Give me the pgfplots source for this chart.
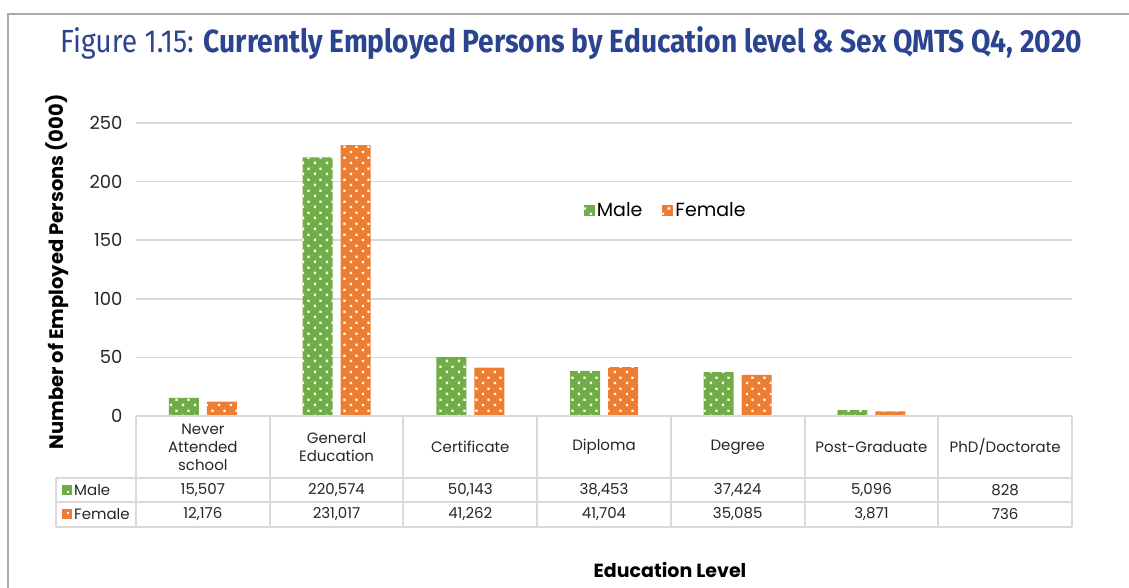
\documentclass[border=0pt]{standalone}
\usepackage{pgfplots}
\usepackage{pgfplotstable}
\pgfplotsset{compat=1.18}
\usepackage{fontspec}
\setmainfont{Poppins}
\newfontfamily\titlefont{Fira Sans}
\usetikzlibrary{patterns.meta}
\definecolor{mgreen}{RGB}{112,173,71}
\definecolor{forange}{RGB}{237,125,49}
\definecolor{tblue}{RGB}{43,68,143}
\definecolor{gridgray}{RGB}{217,217,217}
\definecolor{framegray}{RGB}{170,170,170}
\pgfdeclarepattern{
  name=bardots,
  type=uncolored,
  bottom left={\pgfpoint{0pt}{0pt}},
  top right={\pgfpoint{12pt}{10.6pt}},
  tile size={\pgfpoint{12pt}{10.6pt}},
  code={
    \pgfpathrectangle{\pgfpoint{2pt}{2pt}}{\pgfpoint{2.4pt}{2.4pt}}
    \pgfpathrectangle{\pgfpoint{8pt}{7.3pt}}{\pgfpoint{2.4pt}{2.4pt}}
    \pgfusepath{fill}
  }
}
\pgfplotstableread{
x male female
0 15.507 12.176
1 220.574 231.017
2 50.143 41.262
3 38.453 41.704
4 37.424 35.085
5 5.096 3.871
6 0.828 0.736
}\datatable
\begin{document}
\begin{tikzpicture}[x=1pt,y=1pt]
\useasboundingbox (0,0) rectangle (1129,588);
\draw[framegray, line width=2pt] (8,0) -- (8,574) -- (1129,574);
\node[anchor=base west, inner sep=0, text=tblue] at (60,535)
  {\resizebox{1022pt}{\height}{\fontsize{32}{36}\titlefont Figure 1.15: \textbf{Currently Employed Persons by Education level \& Sex QMTS Q4, 2020}}};
\begin{axis}[
  at={(136pt,172pt)}, anchor=south west,
  scale only axis, width=936pt, height=293pt,
  xmin=-0.5, xmax=6.5, ymin=0, ymax=250,
  ybar=8pt, bar width=30pt,
  axis line style={draw=none},
  xtick=\empty,
  ytick={0,50,100,150,200,250},
  ymajorgrids, grid style={gridgray, line width=1.5pt},
  major tick length=0,
  yticklabel style={font=\fontsize{18}{20}\selectfont, xshift=-10pt, text=black!85},
  /pgf/number format/assume math mode=true,
  clip=false,
  legend style={draw=none, fill=none, at={(0.475,0.703)}, anchor=west,
    font=\fontsize{19}{21}\selectfont, legend columns=2,
    /tikz/every even column/.append style={column sep=18pt}},
  legend image code/.code={\fill[#1] (0pt,-5.5pt) rectangle (11pt,5.5pt);},
]
\addplot[fill=mgreen, draw=none, postaction={pattern=bardots, pattern color=white}] table[x=x,y=male]{\datatable};
\addlegendentry{Male}
\addplot[fill=forange, draw=none, postaction={pattern=bardots, pattern color=white}] table[x=x,y=female]{\datatable};
\addlegendentry{Female}
\end{axis}
% data table
\begin{scope}[gridgray, line width=2pt]
\draw (136,172) -- (1072,172);
\draw (56,110) -- (1072,110);
\draw (56,86) -- (1072,86);
\draw (56,61) -- (1072,61);
\draw (56,110) -- (56,61);
\foreach \k in {0,...,7} {\draw ({136+\k*133.714},172) -- ({136+\k*133.714},61);}
\end{scope}
\begin{scope}[font=\fontsize{15}{18}\selectfont, text=black!85]
\foreach \lab [count=\i from 0] in {{Never\\Attended\\school},{General\\Education},Certificate,Diploma,Degree,Post-Graduate,PhD/Doctorate}
  {\node[align=center, inner sep=0] at ({136+(\i+0.5)*133.714},141) {\lab};}
\foreach \v [count=\i from 0] in {15{,}507,220{,}574,50{,}143,38{,}453,37{,}424,5{,}096,828}
  {\node[inner sep=0] at ({136+(\i+0.5)*133.714},98) {\v};}
\foreach \v [count=\i from 0] in {12{,}176,231{,}017,41{,}262,41{,}704,35{,}085,3{,}871,736}
  {\node[inner sep=0] at ({136+(\i+0.5)*133.714},74) {\v};}
\fill[mgreen] (62,93) rectangle (72,103);
\fill[white] (67,95) rectangle (69.4,97.4);
\fill[forange] (62,69) rectangle (72,79);
\fill[white] (67,74) rectangle (69.4,76.4);
\node[anchor=west, inner sep=0] at (74,98) {Male};
\node[anchor=west, inner sep=0] at (74,74) {Female};
\end{scope}
\node[font=\fontsize{19}{22}\selectfont\bfseries] at (670,18) {Education Level};
\node[font=\fontsize{19.5}{22}\selectfont\bfseries, rotate=90] at (57,316) {Number of Employed Persons (000)};
\end{tikzpicture}
\end{document}
